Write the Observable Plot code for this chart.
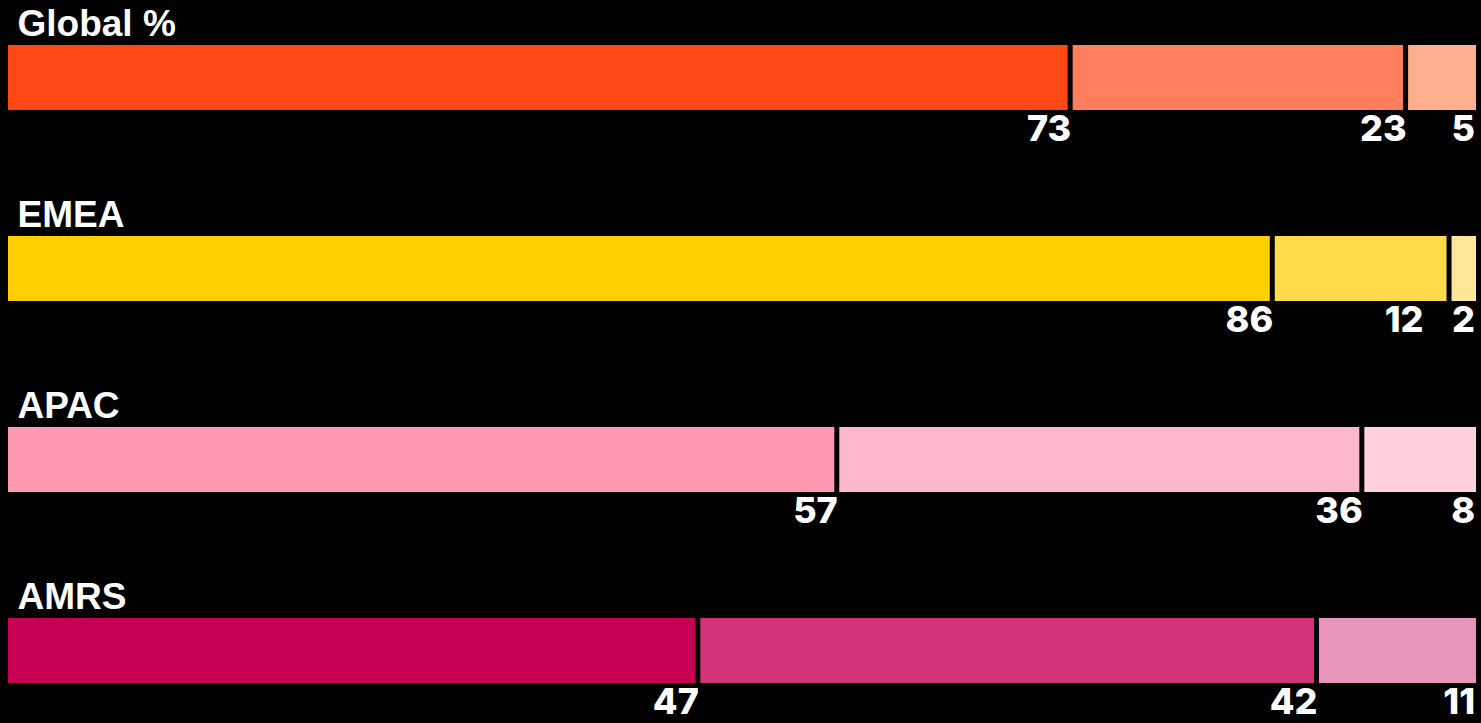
<!DOCTYPE html>
<html>
<head>
<meta charset="utf-8">
<script src="https://cdn.jsdelivr.net/npm/d3@7"></script>
<script src="https://cdn.jsdelivr.net/npm/@observablehq/plot@0.6"></script>
<style>
  html, body { margin: 0; padding: 0; background: #000; }
  #chart svg { display: block; }
</style>
</head>
<body>
<div id="chart"></div>
<script>
const regions = ["Global %", "EMEA", "APAC", "AMRS"];
const globalValues = [73, 23, 5];
const emeaValues = [86, 12, 2];
const apacValues = [57, 36, 8];
const amrsValues = [47, 42, 11];
const globalColors = ["#FF4914", "#FF7F5C", "#FFAE8E"];
const emeaColors = ["#FFCF00", "#FFDA4A", "#FFE699"];
const apacColors = ["#FF99B3", "#FDB8C9", "#FFD1DA"];
const amrsColors = ["#C70055", "#D4337A", "#E795BB"];

const valueSets = [globalValues, emeaValues, apacValues, amrsValues];
const colorSets = [globalColors, emeaColors, apacColors, amrsColors];

// label placement (normalized share units): keep labels from colliding
const minLabelGap = 0.035;
const edgePad = 0.003;

const data = [];
regions.forEach((r, i) => {
  const vals = valueSets[i];
  const total = d3.sum(vals);
  const ends = d3.cumsum(vals).map(c => c / total);
  const pos = ends.slice();
  pos[pos.length - 1] = Math.min(pos[pos.length - 1], 1 - edgePad);
  for (let j = pos.length - 2; j >= 0; j--) {
    pos[j] = Math.min(pos[j], pos[j + 1] - minLabelGap);
  }
  vals.forEach((v, j) => {
    data.push({region: r, seg: j, value: v, color: colorSets[i][j], labelPos: pos[j]});
  });
});

const W = 1481, H = 723;
const plot = Plot.plot({
  width: W,
  height: H,
  marginLeft: 0,
  marginRight: 0,
  marginTop: 0,
  marginBottom: 0,
  style: {background: "#000", overflow: "visible"},
  x: {range: [8, 1481], axis: null},
  y: {domain: regions, range: [0, 764], padding: 0, axis: null},
  color: {type: "identity"},
  marks: [
    Plot.barX(data, Plot.stackX({
      offset: "normalize",
      x: "value",
      y: "region",
      fill: "color",
      insetRight: 5,
      insetTop: 45,
      insetBottom: 81
    })),
    Plot.text(data, {
      x: "labelPos",
      y: "region",
      text: d => String(d.value),
      textAnchor: "end",
      lineAnchor: "bottom",
      dx: -2,
      dy: 45,
      fill: "#fff",
      fontSize: 36,
      fontWeight: 800,
      fontFamily: "Inter"
    }),
    Plot.text(regions, {
      y: d => d,
      text: d => d,
      frameAnchor: "left",
      textAnchor: "start",
      lineAnchor: "bottom",
      dx: 17,
      dy: -60.5,
      fill: "#fff",
      fontSize: 37,
      fontWeight: 700,
      fontFamily: "Liberation Sans",
      letterSpacing: 2
    })
  ]
});
document.getElementById("chart").appendChild(plot);
</script>
</body>
</html>
